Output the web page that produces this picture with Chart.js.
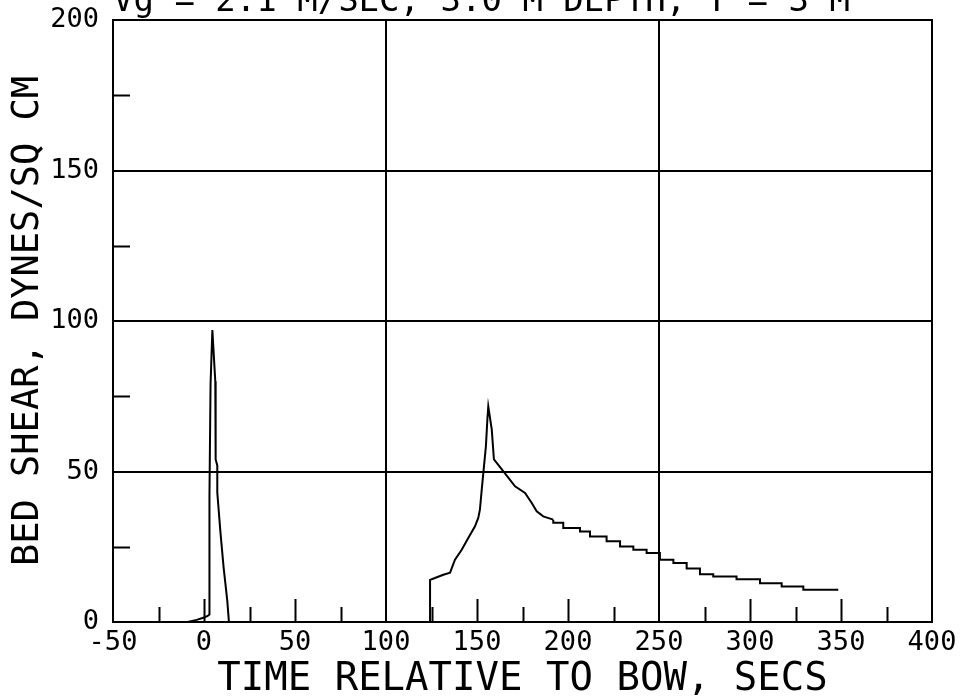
<!DOCTYPE html>
<html>
<head>
<meta charset="utf-8">
<script src="https://cdn.jsdelivr.net/npm/chart.js@4/dist/chart.umd.min.js"></script>
<style>
  html, body { margin: 0; background: #fff; }
  #wrap { width: 961px; height: 699px; position: relative; }
</style>
</head>
<body>
<div id="wrap"><canvas id="shearChart"></canvas></div>
<script>
// bow spike near t = 0
const spikeTime  = [-9, -4, 0, 2, 3, 3, 3.6, 4.6, 6.2, 6.4, 7.3, 7.3, 9, 10.8, 12.8, 13.7];
const spikeShear = [0, 0.7, 1.5, 2, 2.5, 42, 79, 97, 80, 54, 52, 43, 30, 18, 7, 0];

// stern wake: rise to the peak and first decay
const riseTime  = [124.2, 124.2, 126.9, 131.5, 135.2, 137.9, 141.6, 145.2, 148.9, 150.7, 151.6, 152.6, 153.5, 154.9, 155.7, 156.2, 158.1, 159.3, 164.4, 170.9, 176.4, 180, 182.8, 186.4, 191.9];
const riseShear = [0, 14, 14.6, 15.7, 16.4, 20.7, 24, 27.9, 31.8, 34.6, 37.3, 44, 49.6, 58.4, 67.3, 71.6, 64, 54, 50.1, 45.1, 42.9, 39.6, 36.8, 35.1, 34];

// stern wake: stepped tail
const tailTime  = [191.9, 197.4, 206.6, 212.1, 221.2, 228.6, 235.9, 243.2, 250.5, 257.9, 265.2, 272.5, 279.8, 292.6, 305.5, 317.4, 329.3, 341.2, 348.5];
const tailShear = [34, 33, 31.2, 30.1, 28.4, 26.8, 25.1, 24, 22.9, 20.7, 19.6, 17.8, 15.9, 15.1, 14.2, 12.9, 11.8, 10.7, 10.7];

const xGridAt = [100, 250];
const yGridAt = [50, 100, 150];

const titleText = "Vg = 2.1 M/SEC, 3.0 M DEPTH, T = 3 M";
const xTitle = "TIME RELATIVE TO BOW, SECS";
const yTitle = "BED SHEAR, DYNES/SQ CM";

const FONT = "'DejaVu Sans Mono', monospace";
const INK = "#000";

const toPts = (xs, ys) => xs.map((x, i) => ({ x, y: ys[i] }));

const line = (pts, stepped) => ({
  data: pts,
  borderColor: INK,
  borderWidth: 2,
  pointRadius: 0,
  tension: 0,
  stepped: stepped || false,
  fill: false,
});

// frame, inward tick marks and the (clipped) top title
const plotFrame = {
  id: "plotFrame",
  afterDraw(chart) {
    const { ctx, chartArea: a, scales: { x, y } } = chart;
    ctx.save();
    ctx.strokeStyle = INK;
    ctx.lineWidth = 2;
    ctx.strokeRect(a.left, a.top, a.right - a.left, a.bottom - a.top);

    ctx.beginPath();
    for (let v = -25; v < 400; v += 25) {
      if (xGridAt.includes(v)) continue;
      const px = Math.round(x.getPixelForValue(v)) + 0.5;
      const len = v % 50 === 0 ? 23 : 15;
      ctx.moveTo(px, a.bottom);
      ctx.lineTo(px, a.bottom - len);
    }
    for (let v = 25; v < 200; v += 50) {
      const py = Math.round(y.getPixelForValue(v)) + 0.5;
      ctx.moveTo(a.left, py);
      ctx.lineTo(a.left + 17, py);
    }
    ctx.stroke();

    ctx.fillStyle = INK;
    ctx.font = `34px ${FONT}`;
    ctx.textAlign = "left";
    ctx.textBaseline = "alphabetic";
    ctx.fillText(titleText, a.left, 11);
    ctx.restore();
  },
};

new Chart(document.getElementById("shearChart"), {
  type: "line",
  data: {
    datasets: [
      line(toPts(spikeTime, spikeShear)),
      line(toPts(riseTime, riseShear)),
      line(toPts(tailTime, tailShear), "after"),
    ],
  },
  options: {
    responsive: true,
    maintainAspectRatio: false,
    animation: false,
    layout: { padding: { top: 20, right: 29, left: 0, bottom: 0 } },
    plugins: {
      legend: { display: false },
      tooltip: { enabled: false },
      title: { display: false },
    },
    scales: {
      x: {
        type: "linear",
        min: -50,
        max: 400,
        afterFit: (s) => { s.height = 77; s.paddingLeft = 0; s.paddingRight = 0; },
        border: { display: false },
        grid: {
          drawTicks: false,
          lineWidth: 2,
          color: (c) => xGridAt.includes(c.tick && c.tick.value) ? INK : "rgba(0,0,0,0)",
        },
        ticks: {
          stepSize: 25,
          autoSkip: false,
          maxRotation: 0,
          padding: 5,
          color: INK,
          font: { family: FONT, size: 27 },
          callback: (v) => (v % 50 === 0 ? String(v) : ""),
        },
        title: {
          display: true,
          text: xTitle,
          color: INK,
          font: { family: FONT, size: 39, lineHeight: 1.0 },
          padding: { top: 0, bottom: 0 },
        },
      },
      y: {
        min: 0,
        max: 200,
        afterFit: (s) => { s.width = 113; s.paddingTop = 0; s.paddingBottom = 0; },
        border: { display: false },
        grid: {
          drawTicks: false,
          lineWidth: 2,
          color: (c) => yGridAt.includes(c.tick && c.tick.value) ? INK : "rgba(0,0,0,0)",
        },
        ticks: {
          stepSize: 25,
          autoSkip: false,
          padding: 14,
          color: INK,
          font: { family: FONT, size: 27 },
          callback: (v) => (v % 50 === 0 ? String(v) : ""),
        },
        title: {
          display: true,
          text: yTitle,
          color: INK,
          font: { family: FONT, size: 37 },
          padding: { top: 6, bottom: 0 },
        },
      },
    },
  },
  plugins: [plotFrame],
});
</script>
</body>
</html>
